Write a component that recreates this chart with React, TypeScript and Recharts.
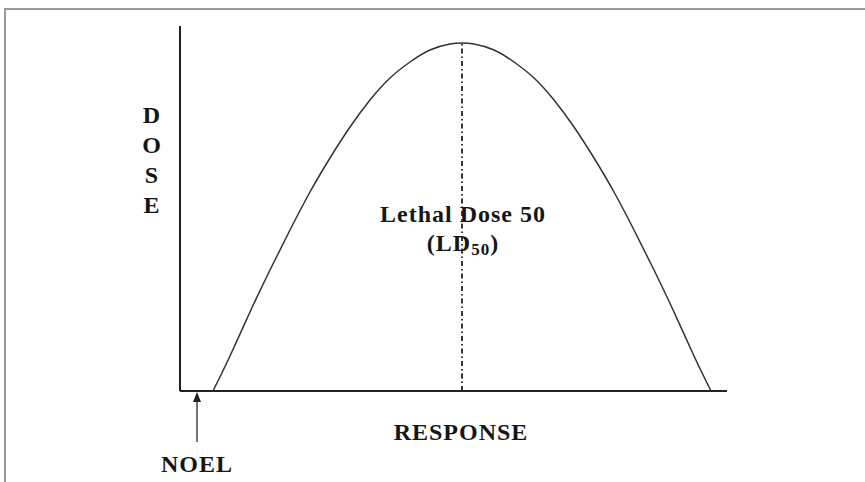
import { Customized, Line, LineChart, ReferenceLine, XAxis, YAxis } from 'recharts'

// response (x) and dose (y), in axis units
const responseX = [33, 50, 70, 90, 110, 130, 150, 170, 190, 210, 230, 250, 270, 282, 294, 314, 334, 354, 374, 394, 414, 434, 454, 474, 494, 514, 531]
const doseY = [0, 35, 79, 121, 161, 199, 233, 264, 291, 313, 329, 341, 347, 348, 347, 341, 329, 313, 291, 264, 233, 199, 161, 121, 79, 35, 0]

const ld50X = 282
const ld50Y = 348
const noelX = 17

const xDomain: [number, number] = [0, 547]
const yDomain: [number, number] = [0, 365]

const doseLetters = ['D', 'O', 'S', 'E']

const data = responseX.map((x, i) => ({ x, dose: doseY[i] }))

const font = '"Liberation Serif", "Times New Roman", serif'

function Arrow(props: { x1?: number; y1?: number; x2?: number; y2?: number }) {
  const { x1 = 0, y1 = 0, x2 = 0, y2 = 0 } = props
  return (
    <g>
      <line x1={x1} y1={y1} x2={x2} y2={y2 + 9} stroke="#444" strokeWidth={1.5} />
      <polygon points={`${x2},${y2} ${x2 - 4},${y2 + 10} ${x2 + 4},${y2 + 10}`} fill="#222" />
    </g>
  )
}

function Annotations() {
  return (
    <g fontFamily={font} fontWeight="bold" fill="#161616" letterSpacing={1}>
      {doseLetters.map((letter, i) => (
        <text key={letter} x={152} y={123 + i * 30} fontSize={24} textAnchor="middle">
          {letter}
        </text>
      ))}
      <text x={463} y={222} fontSize={24} textAnchor="middle">
        Lethal Dose 50
      </text>
      <text x={463} y={251} fontSize={24} textAnchor="middle">
        (LD
        <tspan fontSize={17} dy={4}>
          50
        </tspan>
        <tspan dy={-4}>)</tspan>
      </text>
      <text x={461} y={440} fontSize={24} textAnchor="middle">
        RESPONSE
      </text>
      <text x={197} y={472} fontSize={24} textAnchor="middle">
        NOEL
      </text>
    </g>
  )
}

export default function App() {
  return (
    <div style={{ position: 'absolute', left: 0, top: 0, width: 865, height: 482, background: '#fff' }}>
      <div
        style={{
          position: 'absolute',
          left: 4,
          top: 8,
          width: 861,
          height: 474,
          borderTop: '2px solid #9a9a9a',
          borderLeft: '2px solid #9a9a9a',
        }}
      />
      <div style={{ position: 'absolute', left: 0, top: 0 }}>
        <LineChart width={865} height={482} data={data} margin={{ top: 26, right: 138, bottom: 90, left: 179 }}>
          <XAxis
            type="number"
            dataKey="x"
            domain={xDomain}
            tick={false}
            tickLine={false}
            height={1}
            axisLine={{ stroke: '#222', strokeWidth: 2 }}
          />
          <YAxis
            type="number"
            domain={yDomain}
            tick={false}
            tickLine={false}
            width={1}
            axisLine={{ stroke: '#222', strokeWidth: 2 }}
          />
          <ReferenceLine
            segment={[
              { x: ld50X, y: 0 },
              { x: ld50X, y: ld50Y },
            ]}
            stroke="#222"
            strokeWidth={1.8}
            strokeDasharray="5 3 1.5 3"
          />
          <ReferenceLine
            segment={[
              { x: noelX, y: -51 },
              { x: noelX, y: -1 },
            ]}
            ifOverflow="visible"
            shape={(p: any) => <Arrow {...p} />}
          />
          <Line
            type="natural"
            dataKey="dose"
            stroke="#333"
            strokeWidth={1.5}
            dot={false}
            isAnimationActive={false}
          />
          <Customized component={Annotations} />
        </LineChart>
      </div>
    </div>
  )
}
